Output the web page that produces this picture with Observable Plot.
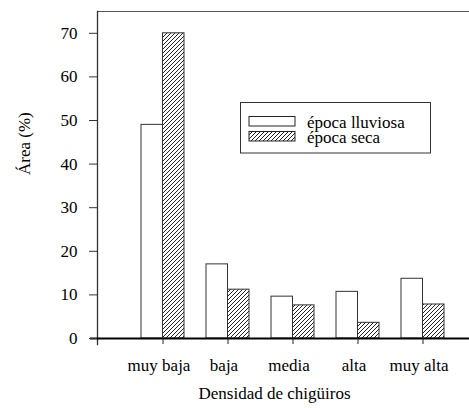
<!DOCTYPE html>
<html>
<head>
<meta charset="utf-8">
<script src="https://cdn.jsdelivr.net/npm/d3@7"></script>
<script src="https://cdn.jsdelivr.net/npm/@observablehq/plot@0.6"></script>
<style>
  html, body { margin: 0; padding: 0; background: white; }
  svg, svg text { font-family: "Liberation Serif", "DejaVu Serif", serif !important; }
</style>
</head>
<body>
<div id="chart"></div>
<script>
const categories = ["muy baja", "baja", "media", "alta", "muy alta"];
const seasons = ["época lluviosa", "época seca"];
const lluviosa = [49, 17, 9.6, 10.7, 13.7];
const seca = [70, 11.2, 7.6, 3.6, 7.8];
const yTicks = [0, 10, 20, 30, 40, 50, 60, 70];
const xTitle = "Densidad de chigüiros";
const yTitle = "Área (%)";

const rowsLl = categories.map((c, i) => ({cat: c, season: seasons[0], value: lluviosa[i]}));
const rowsSe = categories.map((c, i) => ({cat: c, season: seasons[1], value: seca[i]}));

const chart = Plot.plot({
  width: 469,
  height: 408,
  marginLeft: 97,
  marginRight: 0,
  marginTop: 11,
  marginBottom: 70,
  style: {fontSize: "17px", background: "white", color: "#000", overflow: "visible"},
  x: {type: "band", domain: categories, range: [129.5, 454.5], padding: 0},
  y: {domain: [0, 75]},
  marks: [
    Plot.barY(rowsLl, {x: "cat", y: "value", fill: "white", stroke: "#333", strokeWidth: 1, insetLeft: 11, insetRight: 32.5}),
    Plot.barY(rowsSe, {x: "cat", y: "value", fill: "url(#hatch)", stroke: "#333", strokeWidth: 1, insetLeft: 32.5, insetRight: 11}),
    Plot.ruleY([75], {stroke: "#555", strokeWidth: 1.2}),
    Plot.frame({anchor: "left", insetBottom: -6, stroke: "#333", strokeWidth: 1.3}),
    Plot.ruleY([0], {insetLeft: -7, stroke: "#000", strokeWidth: 2}),
    Plot.axisY({ticks: yTicks, tickSize: 8, tickPadding: 12, label: null, fontSize: 17, stroke: "#333"}),
    Plot.axisX({tickSize: 6, text: null, label: null, stroke: "#222"}),
    Plot.axisX({tickSize: 0, tickPadding: 20, dx: -4, label: null, fontSize: 17}),
    Plot.text([xTitle], {frameAnchor: "bottom", dy: 60, dx: -9, fontSize: 17}),
    Plot.text([yTitle], {frameAnchor: "left", dx: -73, rotate: -90, fontSize: 17})
  ]
});

const svg = d3.select(chart);
const defs = svg.insert("defs", ":first-child");
const pat = defs.append("pattern")
  .attr("id", "hatch")
  .attr("patternUnits", "userSpaceOnUse")
  .attr("width", 4).attr("height", 4);
pat.append("rect").attr("width", 4).attr("height", 4).attr("fill", "white");
pat.append("path").attr("d", "M-1,1 l2,-2 M0,4 l4,-4 M3,5 l2,-2")
  .attr("stroke", "#222").attr("stroke-width", 1);

// legend (inside the plot area)
const lg = svg.append("g").attr("font-size", 17).attr("text-anchor", "start");
lg.append("rect").attr("x", 240.5).attr("y", 102.5).attr("width", 190).attr("height", 50.5)
  .attr("fill", "white").attr("stroke", "#333").attr("stroke-width", 1);
const sw = [{fill: "white", y: 116.5}, {fill: "url(#hatch)", y: 131.5}];
sw.forEach((s, i) => {
  lg.append("rect").attr("x", 249).attr("y", s.y).attr("width", 46).attr("height", 9.5)
    .attr("fill", s.fill).attr("stroke", "#222").attr("stroke-width", 1);
  lg.append("text").attr("x", 307).attr("y", s.y + 11).attr("fill", "#000")
    .attr("text-anchor", "start").text(seasons[i]);
});

document.getElementById("chart").appendChild(chart);
</script>
</body>
</html>
